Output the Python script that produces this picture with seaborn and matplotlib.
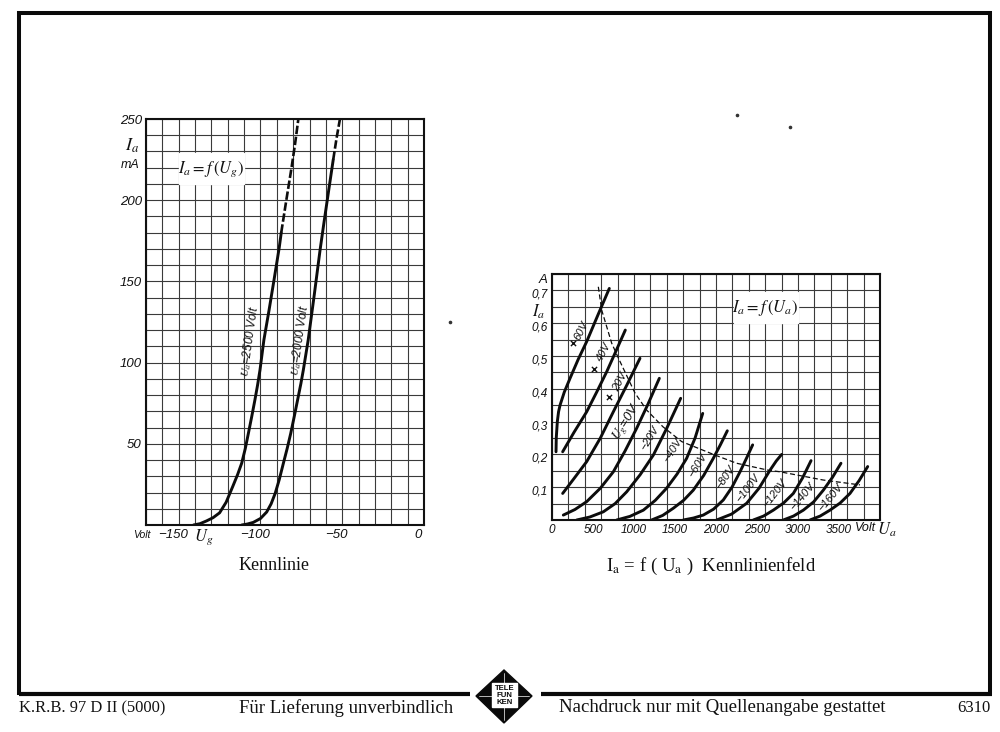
import matplotlib
matplotlib.use("Agg")
import matplotlib.pyplot as plt
from matplotlib.patches import Polygon, Rectangle
from matplotlib.ticker import MultipleLocator, FixedLocator
from matplotlib.transforms import ScaledTranslation
import pandas as pd
import seaborn as sns

sns.set_theme(style="white")
plt.rcParams["mathtext.fontset"] = "stix"
SANS = ["Liberation Sans", "DejaVu Sans"]
SERIF = ["Liberation Serif", "DejaVu Serif"]

# ---- Kennlinie: Ia = f(Ug), Volt / mA
ug_2500 = [-141, -137, -133, -129, -125, -121, -117, -114, -111.5, -109.3, -107.4, -105.3, -103.4,
           -101.8, -100.3, -97.9, -94.8, -91.7, -88.5, -87.3]
ia_2500 = [0, 0.8, 2.5, 4.5, 7.5, 14, 23.6, 31, 38, 47, 56.4, 67, 77, 86, 95.4, 114, 132, 151, 171, 180]
ug_2500_dash = [-87.3, -84.2, -81, -78.8, -76.9]
ia_2500_dash = [180, 200, 220, 235, 249.5]
ug_2000 = [-111.5, -108, -104.4, -100, -96.2, -93.5, -91, -88.5, -86, -83.7, -81.5, -79.2, -76.9,
           -75.3, -73.8, -70.8, -67.2, -63.6, -61.2, -58, -55.5]
ia_2000 = [0, 0.6, 1.6, 4, 8, 13, 19.5, 28, 38, 47, 56.4, 67.5, 79, 87, 95.4, 114, 141, 169, 186, 208, 225]
ug_2000_dash = [-55.5, -53.5, -51.4]
ia_2000_dash = [225, 238, 250]
left_xticks = [-150, -100, -50, 0]
left_xlabels = ["\u2212150", "\u2212100", "\u221250", "0"]
left_yticks = [50, 100, 150, 200, 250]

# ---- Kennlinienfeld: Ia = f(Ua), Volt / A
ua_p60 = [49, 52, 65, 80, 98, 150, 220, 320, 423, 560, 699]
ia_p60 = [0.208, 0.25, 0.30, 0.33, 0.35, 0.39, 0.432, 0.49, 0.544, 0.625, 0.706]
ua_p40 = [130, 270, 423, 545, 667, 780, 894]
ia_p40 = [0.208, 0.268, 0.33, 0.39, 0.452, 0.515, 0.579]
ua_p20 = [130, 270, 423, 590, 748, 910, 1073]
ia_p20 = [0.081, 0.127, 0.178, 0.25, 0.33, 0.41, 0.493]
ua_0 = [138, 280, 423, 590, 748, 890, 1033, 1170, 1309]
ia_0 = [0.015, 0.032, 0.056, 0.097, 0.147, 0.21, 0.28, 0.353, 0.432]
ua_m20 = [301, 460, 626, 770, 911, 1075, 1236, 1400, 1569]
ia_m20 = [0, 0.009, 0.025, 0.05, 0.086, 0.138, 0.198, 0.28, 0.371]
ua_m40 = [789, 950, 1114, 1260, 1398, 1525, 1642, 1745, 1838]
ia_m40 = [0, 0.011, 0.03, 0.06, 0.097, 0.14, 0.188, 0.25, 0.325]
ua_m60 = [1215, 1350, 1480, 1605, 1723, 1850, 1967, 2055, 2138]
ia_m60 = [0, 0.014, 0.036, 0.06, 0.091, 0.136, 0.188, 0.23, 0.272]
ua_m80 = [1601, 1725, 1845, 1970, 2089, 2195, 2293, 2375, 2447]
ia_m80 = [0, 0.006, 0.015, 0.033, 0.061, 0.1, 0.147, 0.19, 0.229]
ua_m100 = [2008, 2190, 2374, 2525, 2659, 2735, 2801]
ia_m100 = [0, 0.018, 0.051, 0.097, 0.152, 0.18, 0.2]
ua_m120 = [2455, 2580, 2699, 2825, 2943, 3055, 3159]
ia_m120 = [0, 0.012, 0.03, 0.052, 0.081, 0.128, 0.181]
ua_m140 = [2821, 2945, 3065, 3190, 3309, 3420, 3524]
ia_m140 = [0, 0.012, 0.03, 0.055, 0.091, 0.13, 0.173]
ua_m160 = [3146, 3270, 3390, 3515, 3634, 3745, 3850]
ia_m160 = [0, 0.012, 0.03, 0.052, 0.081, 0.12, 0.163]
ua_limit = [565, 606, 728, 809, 1012, 1155, 1354, 1582, 1988, 2252, 2634, 2780, 3305, 3756]
ia_limit = [0.711, 0.64, 0.539, 0.494, 0.387, 0.335, 0.284, 0.239, 0.198, 0.173, 0.152, 0.147, 0.122, 0.107]
ua_cross = [256, 512, 695]   # x marks next to the +60, +40, +20 V curves
ia_cross = [0.54, 0.46, 0.375]
right_xticks = [0, 500, 1000, 1500, 2000, 2500, 3000, 3500]
right_yticks = [0.1, 0.2, 0.3, 0.4, 0.5, 0.6, 0.7]
right_ylabels = ["0,1", "0,2", "0,3", "0,4", "0,5", "0,6", "0,7"]

W, H = 1000, 732
fig = plt.figure(figsize=(W / 100, H / 100), dpi=100, facecolor="white")


def box(l, t, r, b):
    return [l / W, 1 - b / H, (r - l) / W, (b - t) / H]


GRID = "#3a3a3a"


def style(ax, size):
    ax.set_axisbelow(True)
    ax.grid(True, which="both", color=GRID, lw=0.8)
    ax.tick_params(which="both", length=0, pad=3)
    for s in ax.spines.values():
        s.set_visible(True)
        s.set_color("#111111")
        s.set_linewidth(1.5)
    ax.set_xlabel("")
    ax.set_ylabel("")
    for lab in ax.get_xticklabels() + ax.get_yticklabels():
        lab.set_family(SANS)
        lab.set_style("italic")
        lab.set_fontsize(size)
        lab.set_color("#111111")


def curve(ax, x, y, **kw):
    df = pd.DataFrame({"u": x, "i": y})
    sns.lineplot(data=df, x="u", y="i", ax=ax, sort=False, estimator=None,
                 color="#0c0c0c", legend=False, **kw)


# ---------- left chart
ax1 = fig.add_axes(box(146, 119, 424, 525))
curve(ax1, ug_2500, ia_2500, lw=2.1)
curve(ax1, ug_2000, ia_2000, lw=2.1)
curve(ax1, ug_2500_dash, ia_2500_dash, lw=1.9, dashes=(3.2, 1.0))
curve(ax1, ug_2000_dash, ia_2000_dash, lw=1.9, dashes=(3.2, 1.0))
ax1.set_xlim(-170, 0)
ax1.set_ylim(0, 250)
ax1.xaxis.set_major_locator(FixedLocator(left_xticks))
ax1.xaxis.set_minor_locator(MultipleLocator(10))
ax1.yaxis.set_major_locator(FixedLocator(left_yticks))
ax1.yaxis.set_minor_locator(MultipleLocator(10))
ax1.set_xticklabels(left_xlabels)
style(ax1, 9.5)
shift = ScaledTranslation(-5.5 / 100, 0, fig.dpi_scale_trans)
for lab in ax1.get_xticklabels():
    lab.set_transform(lab.get_transform() + shift)

# ---------- right chart
ax2 = fig.add_axes(box(552, 274, 880, 520))
for x, y in [(ua_p60, ia_p60), (ua_p40, ia_p40), (ua_p20, ia_p20), (ua_0, ia_0),
             (ua_m20, ia_m20), (ua_m40, ia_m40), (ua_m60, ia_m60), (ua_m80, ia_m80),
             (ua_m100, ia_m100), (ua_m120, ia_m120), (ua_m140, ia_m140), (ua_m160, ia_m160)]:
    curve(ax2, x, y, lw=2.1)
curve(ax2, ua_limit, ia_limit, lw=0.9, dashes=(4, 2.2))
sns.scatterplot(x=ua_cross, y=ia_cross, ax=ax2, marker="x", color="#111111", s=14,
                linewidth=1.0, legend=False)
ax2.set_xlim(0, 4000)
ax2.set_ylim(0, 0.75)
ax2.xaxis.set_major_locator(FixedLocator(right_xticks))
ax2.xaxis.set_minor_locator(MultipleLocator(200))
ax2.xaxis.remove_overlapping_locs = False
ax2.yaxis.set_major_locator(FixedLocator(right_yticks))
ax2.yaxis.set_minor_locator(MultipleLocator(0.05))
ax2.set_yticklabels(right_ylabels)
style(ax2, 8.5)
ax2.grid(False, which="major", axis="x")
down = ScaledTranslation(0, -3 / 100, fig.dpi_scale_trans)
for lab in ax2.get_yticklabels():
    lab.set_transform(lab.get_transform() + down)

# ---------- page layer in pixel coordinates
page = fig.add_axes([0, 0, 1, 1], zorder=5)
page.set_xlim(0, W)
page.set_ylim(H, 0)
page.axis("off")
page.patch.set_alpha(0)

BLK = "#0a0a0a"
page.plot([19, 19, 990, 990], [695, 13, 13, 695], color=BLK, lw=2.9, solid_joinstyle="miter", solid_capstyle="butt")
page.plot([19, 470], [694, 694], color=BLK, lw=3.0, solid_capstyle="butt")
page.plot([541, 992], [694, 694], color=BLK, lw=3.0, solid_capstyle="butt")
page.plot([450, 737, 790], [322, 115, 127], ls="none", marker="o", ms=1.6, color="#333333")

# logo
page.add_patch(Polygon([(504, 670), (532, 696), (504, 723), (476, 696)], closed=True, color=BLK))
page.add_patch(Rectangle((492, 683), 25, 24, color="white", zorder=3))
page.plot([504, 504], [673, 683], color="white", lw=0.5)
page.plot([504, 504], [707, 720], color="white", lw=0.5)
page.plot([479, 492], [696, 696], color="white", lw=0.5)
page.plot([517, 529], [696, 696], color="white", lw=0.5)
for row, word in zip([688, 695.5, 703], ["TELE", "FUN", "KEN"]):
    page.text(504.5, row, word, ha="center", va="center", fontsize=5.6, fontweight="bold",
              family="Liberation Sans", color=BLK, zorder=4)

# white panels behind the function labels
page.add_patch(Rectangle((179, 153), 64.5, 30.5, color="white", zorder=2))
page.add_patch(Rectangle((733.5, 291.5), 64, 31, color="white", zorder=2))


def narrow(x, y, s, size=9.5, rot=0, ha="center", va="center"):
    page.text(x, y, s, family=SANS, style="italic", fontsize=size, rotation=rot,
              rotation_mode="anchor", ha=ha, va=va, color="#111111", zorder=4)


def serif(x, y, s, size=10.5, ha="left"):
    page.text(x, y, s, family=SERIF, fontsize=size, ha=ha, va="center", color="#111111", zorder=4)


# left chart annotations
narrow(132, 146, r"$I_a$", 13)
narrow(130, 165, "mA", 9)
narrow(142, 535, "Volt", 7.5)
narrow(204, 537, r"$U_g$", 12)
narrow(211, 169, r"$I_a = f\,(U_g)$", 12)
narrow(250, 341, r"$U_a$=2500 Volt", 8.5, rot=82)
narrow(300, 340, r"$U_a$=2000 Volt", 8.5, rot=82)
serif(274, 566, "Kennlinie", 13, ha="center")

# right chart annotations
narrow(543, 280, "A", 9.5)
narrow(539, 312, r"$I_a$", 12)
narrow(865, 528, "Volt", 9)
narrow(887, 530, r"$U_a$", 12)
narrow(765, 308, r"$I_a = f\,(U_a)$", 12)
serif(711, 566, r"I$_{\mathrm{a}}$ = f ( U$_{\mathrm{a}}$ )  Kennlinienfeld", 13.5, ha="center")
for px, py, txt, rot, size in [
    (581, 331, "60V", 62, 8), (604, 352, "40V", 62, 8), (620, 382, "20V", 62, 8),
    (627, 422, r"$U_g$=0V", 58, 9.5), (650, 438, "\u221220V", 58, 8),
    (673, 450, "\u221240V", 58, 8), (698, 465, "\u221260V", 58, 8),
    (725, 477, "\u221280V", 55, 8), (748, 488, "\u2212100V", 52, 8),
    (775, 493, "\u2212120V", 52, 8), (802, 497, "\u2212140V", 50, 8),
    (830, 498, "\u2212160V", 50, 8),
]:
    narrow(px, py, txt, size, rot=rot)

# footer
serif(19, 708, "K.R.B. 97 D II (5000)", 11.9)
serif(239, 708, "Für Lieferung unverbindlich", 13.5)
serif(559, 708, "Nachdruck nur mit Quellenangabe gestattet", 13.5)
serif(957, 708, "6310", 12)

fig.savefig("out.png", dpi=100)
